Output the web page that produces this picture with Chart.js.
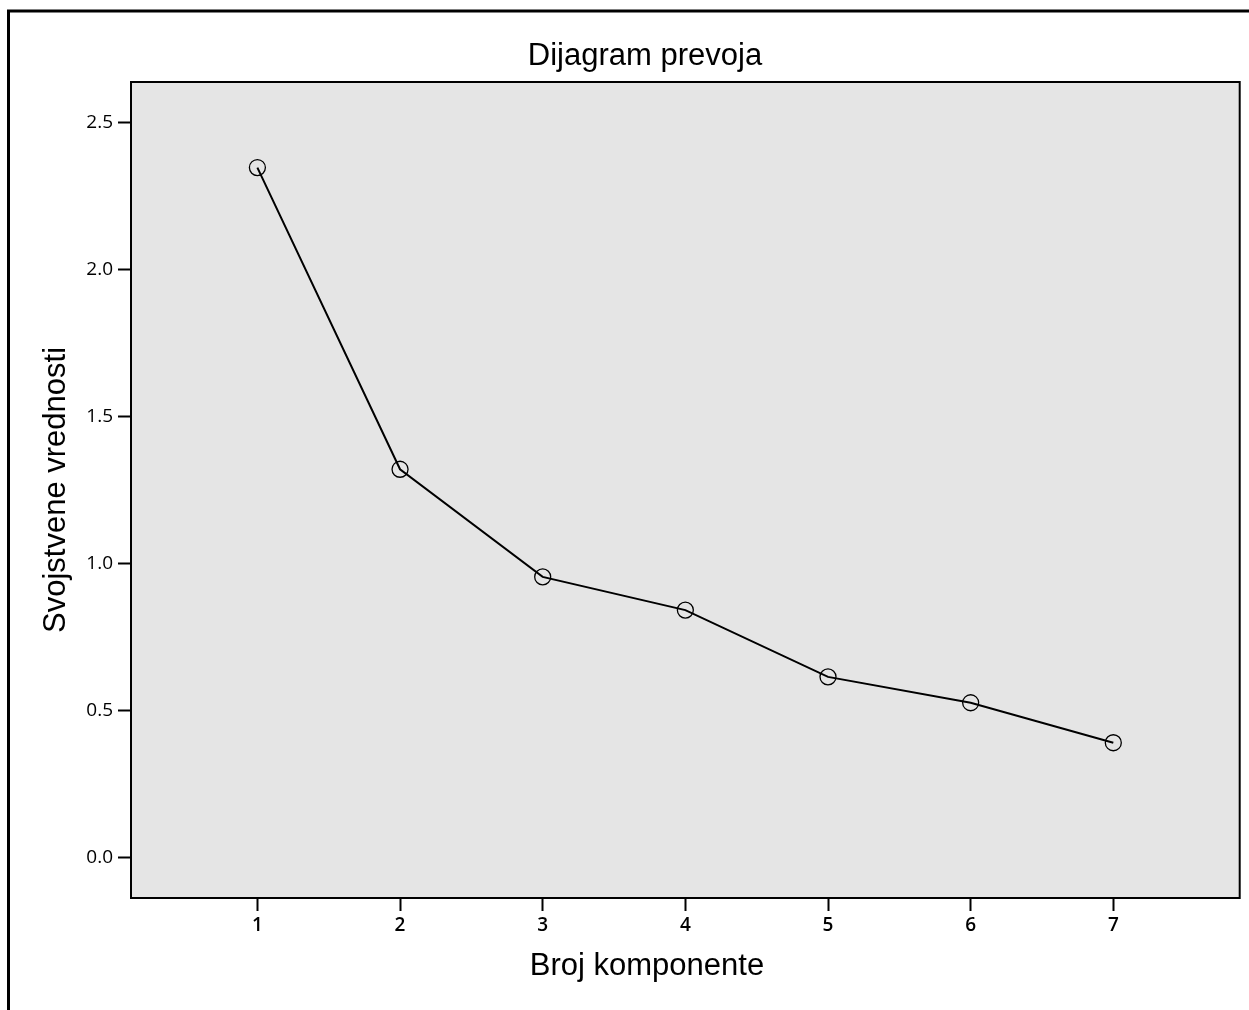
<!DOCTYPE html>
<html>
<head>
<meta charset="utf-8">
<title>Dijagram prevoja</title>
<script src="https://cdn.jsdelivr.net/npm/chart.js@4.4.0/dist/chart.umd.min.js"></script>
<style>
  html, body { margin: 0; padding: 0; background: #fff; }
</style>
</head>
<body>
<canvas id="scree" width="1249" height="1010"></canvas>
<script>
// scree plot values
const components = [1, 2, 3, 4, 5, 6, 7];
const eigenvalues = [2.346, 1.320, 0.954, 0.841, 0.614, 0.526, 0.390];
const xTicks = [1, 2, 3, 4, 5, 6, 7];
const yTicks = [0.0, 0.5, 1.0, 1.5, 2.0, 2.5];

const chartTitle = 'Dijagram prevoja';
const xTitle = 'Broj komponente';
const yTitle = 'Svojstvene vrednosti';

const titleFont = { family: 'Liberation Sans, Arial, sans-serif', size: 31 };

// grey plot area, black box, page frame, and the two titles
// (the titles sit left of the plot centre in the original, so they are drawn here)
const plotFrame = {
  id: 'plotFrame',
  beforeDraw(chart) {
    const { ctx, chartArea: a } = chart;
    ctx.save();
    ctx.fillStyle = '#fff';
    ctx.fillRect(0, 0, chart.width, chart.height);
    ctx.fillStyle = '#e5e5e5';
    ctx.fillRect(a.left, a.top, a.right - a.left, a.bottom - a.top);
    ctx.strokeStyle = '#000';
    ctx.lineWidth = 3;
    ctx.beginPath();
    ctx.moveTo(8.5, chart.height);
    ctx.lineTo(8.5, 11);
    ctx.lineTo(chart.width, 11);
    ctx.stroke();
    ctx.restore();
  },
  afterDraw(chart) {
    const { ctx, chartArea: a } = chart;
    ctx.save();
    ctx.strokeStyle = '#000';
    ctx.lineWidth = 2;
    ctx.strokeRect(a.left, a.top, a.right - a.left, a.bottom - a.top);

    ctx.fillStyle = '#000';
    ctx.font = titleFont.size + 'px ' + titleFont.family;
    ctx.textAlign = 'center';
    ctx.textBaseline = 'alphabetic';
    ctx.fillText(chartTitle, 645, 65);
    ctx.fillText(xTitle, 647, 975);
    ctx.restore();
  }
};

const ctx = document.getElementById('scree').getContext('2d');
new Chart(ctx, {
  type: 'line',
  data: {
    datasets: [{
      data: components.map((c, i) => ({ x: c, y: eigenvalues[i] })),
      borderColor: '#000',
      borderWidth: 2,
      tension: 0,
      pointStyle: 'circle',
      pointRadius: 8,
      pointBorderWidth: 1.3,
      pointBorderColor: '#000',
      pointBackgroundColor: 'rgba(0,0,0,0)'
    }]
  },
  options: {
    responsive: false,
    animation: false,
    layout: { padding: { left: 0, right: 3, top: 82, bottom: 0 } },
    plugins: {
      legend: { display: false },
      tooltip: { enabled: false },
      title: { display: false }
    },
    scales: {
      x: {
        type: 'linear',
        min: 0.114,
        max: 7.886,
        afterBuildTicks: s => { s.ticks = xTicks.map(v => ({ value: v })); },
        afterFit: s => { s.height = 112; },
        ticks: {
          color: '#000',
          padding: 3,
          font: { family: 'Open Sans', size: 19, weight: '600' },
          callback: v => String(v)
        },
        grid: {
          drawOnChartArea: false,
          drawTicks: true,
          tickLength: 13,
          tickWidth: 2,
          tickColor: '#000'
        },
        border: { display: false },
        title: { display: false }
      },
      y: {
        type: 'linear',
        min: -0.138,
        max: 2.637,
        afterBuildTicks: s => { s.ticks = yTicks.map(v => ({ value: v })); },
        afterFit: s => { s.width = 131; },
        ticks: {
          color: '#000',
          padding: 5,
          font: { family: 'Open Sans', size: 19 },
          callback: v => v.toFixed(1)
        },
        grid: {
          drawOnChartArea: false,
          drawTicks: true,
          tickLength: 13,
          tickWidth: 2,
          tickColor: '#000'
        },
        border: { display: false },
        title: {
          display: true,
          text: yTitle,
          color: '#000',
          font: titleFont,
          padding: { top: 38, bottom: 0 }
        }
      }
    }
  },
  plugins: [plotFrame]
});
</script>
</body>
</html>
